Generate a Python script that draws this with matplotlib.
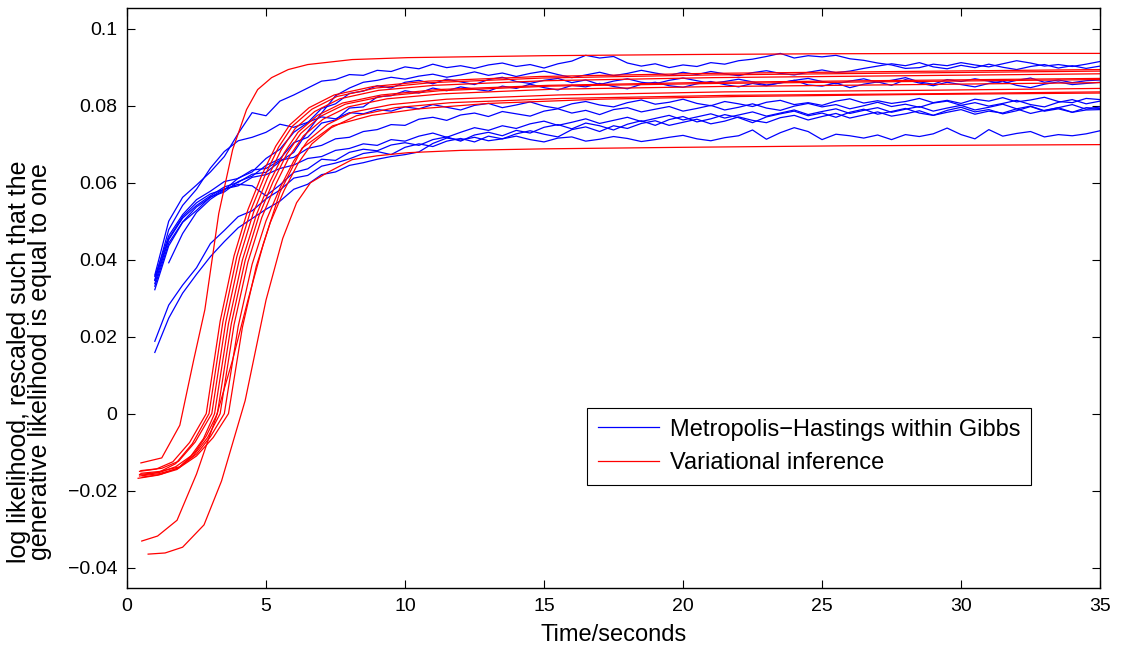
import numpy as np
import matplotlib
matplotlib.use('Agg')
import matplotlib.pyplot as plt

plt.rcParams['font.family'] = ['Liberation Sans', 'DejaVu Sans']

# Metropolis-Hastings within Gibbs runs, sampled every 0.5 s from 1 s to 35 s
mh_time = np.arange(1.0, 35.01, 0.5)

mh_run1 = [0.0360, 0.0500, 0.0562, 0.0594, 0.0628, 0.0668, 0.0728, 0.0782, 0.0774, 0.0812,
           0.0828, 0.0846, 0.0864, 0.0868, 0.0881, 0.0879, 0.0892, 0.0889, 0.0901, 0.0896,
           0.0908, 0.0899, 0.0904, 0.0897, 0.0906, 0.0911, 0.0902, 0.0907, 0.0898, 0.0909,
           0.0916, 0.0931, 0.0924, 0.0928, 0.0911, 0.0903, 0.0909, 0.0899, 0.0906, 0.0902,
           0.0912, 0.0908, 0.0917, 0.0921, 0.0928, 0.0936, 0.0924, 0.0930, 0.0927, 0.0931,
           0.0922, 0.0918, 0.0911, 0.0906, 0.0897, 0.0899, 0.0908, 0.0904, 0.0912, 0.0906,
           0.0901, 0.0909, 0.0917, 0.0911, 0.0903, 0.0907, 0.0902, 0.0908, 0.0915]
mh_run2 = [0.0338, 0.0452, 0.0508, 0.0541, 0.0566, 0.0589, 0.0601, 0.0622, 0.0627, 0.0655,
           0.0679, 0.0733, 0.0781, 0.0826, 0.0846, 0.0861, 0.0866, 0.0874, 0.0869, 0.0877,
           0.0882, 0.0874, 0.0880, 0.0888, 0.0879, 0.0885, 0.0876, 0.0884, 0.0890, 0.0881,
           0.0873, 0.0880, 0.0887, 0.0878, 0.0884, 0.0892, 0.0885, 0.0879, 0.0887, 0.0881,
           0.0889, 0.0883, 0.0878, 0.0886, 0.0891, 0.0884, 0.0880, 0.0887, 0.0893, 0.0886,
           0.0890, 0.0897, 0.0903, 0.0909, 0.0904, 0.0912, 0.0901, 0.0896, 0.0905, 0.0899,
           0.0908, 0.0900, 0.0894, 0.0902, 0.0907, 0.0898, 0.0904, 0.0897, 0.0903]
mh_run3 = [np.nan, 0.0392, 0.0468, 0.0523, 0.0557, 0.0581, 0.0612, 0.0628, 0.0663, 0.0687,
           0.0731, 0.0756, 0.0793, 0.0805, 0.0832, 0.0838, 0.0852, 0.0846, 0.0861, 0.0866,
           0.0857, 0.0869, 0.0862, 0.0855, 0.0868, 0.0874, 0.0863, 0.0858, 0.0866, 0.0871,
           0.0860, 0.0867, 0.0855, 0.0864, 0.0870, 0.0861, 0.0857, 0.0866, 0.0872, 0.0865,
           0.0858, 0.0863, 0.0869, 0.0862, 0.0854, 0.0859, 0.0866, 0.0871, 0.0863, 0.0857,
           0.0864, 0.0870, 0.0861, 0.0866, 0.0873, 0.0862, 0.0856, 0.0868, 0.0863, 0.0870,
           0.0864, 0.0858, 0.0866, 0.0872, 0.0861, 0.0867, 0.0860, 0.0865, 0.0867]
mh_run4 = [0.0322, 0.0436, 0.0497, 0.0528, 0.0563, 0.0576, 0.0603, 0.0617, 0.0645, 0.0662,
           0.0704, 0.0718, 0.0755, 0.0763, 0.0794, 0.0797, 0.0823, 0.0826, 0.0839, 0.0833,
           0.0846, 0.0839, 0.0849, 0.0843, 0.0838, 0.0851, 0.0845, 0.0856, 0.0847, 0.0841,
           0.0853, 0.0849, 0.0858, 0.0850, 0.0844, 0.0856, 0.0861, 0.0852, 0.0848, 0.0857,
           0.0863, 0.0855, 0.0849, 0.0858, 0.0852, 0.0860, 0.0866, 0.0854, 0.0851, 0.0859,
           0.0847, 0.0856, 0.0862, 0.0853, 0.0868, 0.0859, 0.0852, 0.0861, 0.0855, 0.0849,
           0.0858, 0.0864, 0.0853, 0.0847, 0.0856, 0.0862, 0.0855, 0.0858, 0.0861]
mh_run5 = [0.0346, 0.0478, 0.0541, 0.0583, 0.0638, 0.0681, 0.0709, 0.0718, 0.0731, 0.0752,
           0.0744, 0.0757, 0.0771, 0.0766, 0.0782, 0.0779, 0.0790, 0.0786, 0.0797, 0.0792,
           0.0803, 0.0796, 0.0789, 0.0801, 0.0806, 0.0795, 0.0802, 0.0810, 0.0799, 0.0793,
           0.0805, 0.0811, 0.0802, 0.0797, 0.0808, 0.0815, 0.0804, 0.0809, 0.0817, 0.0806,
           0.0800, 0.0811, 0.0805, 0.0798, 0.0809, 0.0814, 0.0803, 0.0808, 0.0801, 0.0812,
           0.0818, 0.0807, 0.0813, 0.0806, 0.0811, 0.0819, 0.0808, 0.0814, 0.0806, 0.0817,
           0.0812, 0.0821, 0.0810, 0.0815, 0.0822, 0.0811, 0.0808, 0.0819, 0.0816]
mh_run6 = [0.0356, 0.0462, 0.0517, 0.0556, 0.0578, 0.0603, 0.0611, 0.0633, 0.0637, 0.0658,
           0.0666, 0.0689, 0.0697, 0.0714, 0.0718, 0.0733, 0.0738, 0.0751, 0.0749, 0.0765,
           0.0770, 0.0762, 0.0776, 0.0781, 0.0772, 0.0785, 0.0779, 0.0773, 0.0786, 0.0792,
           0.0781, 0.0788, 0.0777, 0.0790, 0.0795, 0.0784, 0.0791, 0.0798, 0.0786, 0.0793,
           0.0801, 0.0789, 0.0796, 0.0805, 0.0794, 0.0788, 0.0799, 0.0806, 0.0797, 0.0803,
           0.0792, 0.0800, 0.0809, 0.0798, 0.0804, 0.0796, 0.0807, 0.0812, 0.0801, 0.0808,
           0.0799, 0.0806, 0.0814, 0.0803, 0.0797, 0.0809, 0.0816, 0.0805, 0.0812]
mh_run7 = [0.0331, 0.0443, 0.0498, 0.0537, 0.0562, 0.0584, 0.0592, 0.0614, 0.0621, 0.0637,
           0.0646, 0.0663, 0.0668, 0.0684, 0.0689, 0.0701, 0.0697, 0.0712, 0.0708, 0.0721,
           0.0729, 0.0718, 0.0731, 0.0743, 0.0736, 0.0748, 0.0741, 0.0753, 0.0760, 0.0749,
           0.0757, 0.0766, 0.0754, 0.0762, 0.0770, 0.0759, 0.0767, 0.0775, 0.0763, 0.0771,
           0.0779, 0.0768, 0.0776, 0.0784, 0.0773, 0.0781, 0.0789, 0.0777, 0.0785, 0.0792,
           0.0780, 0.0788, 0.0795, 0.0783, 0.0791, 0.0798, 0.0786, 0.0794, 0.0801, 0.0789,
           0.0796, 0.0804, 0.0792, 0.0799, 0.0787, 0.0795, 0.0803, 0.0791, 0.0797]
mh_run8 = [0.0347, 0.0455, 0.0512, 0.0548, 0.0571, 0.0583, 0.0596, 0.0592, 0.0566, 0.0594,
           0.0627, 0.0636, 0.0661, 0.0658, 0.0679, 0.0687, 0.0683, 0.0698, 0.0704, 0.0697,
           0.0712, 0.0719, 0.0708, 0.0724, 0.0731, 0.0722, 0.0736, 0.0729, 0.0744, 0.0751,
           0.0740, 0.0755, 0.0748, 0.0737, 0.0752, 0.0761, 0.0749, 0.0764, 0.0772, 0.0758,
           0.0766, 0.0777, 0.0769, 0.0756, 0.0771, 0.0779, 0.0786, 0.0774, 0.0781, 0.0770,
           0.0783, 0.0791, 0.0778, 0.0785, 0.0793, 0.0781, 0.0775, 0.0788, 0.0796, 0.0784,
           0.0790, 0.0779, 0.0787, 0.0798, 0.0786, 0.0792, 0.0783, 0.0795, 0.0793]
mh_run9 = [0.0188, 0.0282, 0.0334, 0.0379, 0.0442, 0.0476, 0.0512, 0.0527, 0.0558, 0.0581,
           0.0612, 0.0619, 0.0643, 0.0651, 0.0662, 0.0676, 0.0681, 0.0673, 0.0692, 0.0701,
           0.0694, 0.0708, 0.0715, 0.0706, 0.0721, 0.0714, 0.0727, 0.0735, 0.0726, 0.0719,
           0.0738, 0.0745, 0.0733, 0.0748, 0.0741, 0.0754, 0.0761, 0.0749, 0.0757, 0.0765,
           0.0753, 0.0760, 0.0771, 0.0762, 0.0756, 0.0769, 0.0775, 0.0763, 0.0772, 0.0780,
           0.0768, 0.0776, 0.0784, 0.0773, 0.0779, 0.0787, 0.0775, 0.0783, 0.0790, 0.0778,
           0.0786, 0.0781, 0.0792, 0.0780, 0.0788, 0.0795, 0.0783, 0.0789, 0.0790]
mh_run10 = [0.0159, 0.0248, 0.0313, 0.0362, 0.0408, 0.0447, 0.0483, 0.0507, 0.0531, 0.0552,
            0.0583, 0.0596, 0.0621, 0.0628, 0.0645, 0.0652, 0.0661, 0.0668, 0.0673, 0.0680,
            0.0702, 0.0716, 0.0711, 0.0718, 0.0709, 0.0714, 0.0721, 0.0712, 0.0706, 0.0716,
            0.0719, 0.0708, 0.0713, 0.0720, 0.0715, 0.0707, 0.0712, 0.0718, 0.0723, 0.0714,
            0.0709, 0.0717, 0.0722, 0.0737, 0.0713, 0.0730, 0.0743, 0.0733, 0.0712, 0.0726,
            0.0722, 0.0716, 0.0724, 0.0712, 0.0725, 0.0720, 0.0727, 0.0742, 0.0725, 0.0714,
            0.0738, 0.0721, 0.0728, 0.0733, 0.0719, 0.0725, 0.0722, 0.0727, 0.0735]

# Variational inference runs (time in s, scaled log likelihood)
vi_run1_t = [0.5, 1.25, 1.9, 2.4, 2.8, 3.3, 3.8, 4.3, 4.7, 5.2, 5.8, 6.5, 8.1, 10.1, 15, 20, 25, 30, 35]
vi_run1_y = [-0.0128, -0.0115, -0.0030, 0.0140, 0.0270, 0.0520, 0.0686, 0.0790, 0.0842, 0.0873,
             0.0894, 0.0907, 0.0920, 0.0925, 0.0930, 0.0933, 0.0935, 0.0936, 0.0936]
vi_run2_t = [0.45, 1.05, 1.65, 2.25, 2.85, 3.35, 3.85, 4.35, 4.85, 5.35, 5.85, 6.55, 7.45, 8.85,
             10.85, 14.85, 20.85, 27.85, 35]
vi_run2_y = [-0.0150, -0.0144, -0.0125, -0.0075, 0.0000, 0.0240, 0.0410, 0.0530, 0.0620, 0.0695,
             0.0750, 0.0795, 0.0828, 0.0850, 0.0864, 0.0876, 0.0884, 0.0889, 0.0894]
vi_run3_t = [0.55, 1.15, 1.75, 2.35, 2.95, 3.45, 3.95, 4.45, 4.95, 5.45, 5.95, 6.65, 7.55, 8.95,
             10.95, 14.95, 20.95, 27.95, 35]
vi_run3_y = [-0.0160, -0.0152, -0.0130, -0.0078, 0.0000, 0.0239, 0.0408, 0.0528, 0.0617, 0.0692,
             0.0747, 0.0791, 0.0824, 0.0846, 0.0860, 0.0872, 0.0880, 0.0885, 0.0890]
vi_run4_t = [0.5, 1.25, 1.85, 2.45, 3.05, 3.55, 4.05, 4.55, 5.05, 5.55, 6.05, 6.75, 7.65, 9.05,
             11.05, 15.05, 21.05, 28.05, 35]
vi_run4_y = [-0.0148, -0.0142, -0.0124, -0.0074, 0.0000, 0.0237, 0.0405, 0.0523, 0.0612, 0.0686,
             0.0741, 0.0785, 0.0818, 0.0840, 0.0853, 0.0865, 0.0873, 0.0878, 0.0883]
vi_run5_t = [0.45, 1.15, 1.75, 2.3, 2.75, 3.15, 3.65, 4.15, 4.65, 5.15, 5.65, 6.15, 6.85, 7.75,
             9.15, 11.15, 15.15, 21.15, 28.15, 35]
vi_run5_y = [-0.0158, -0.0153, -0.0138, -0.0110, -0.0065, 0.0000, 0.0234, 0.0399, 0.0516, 0.0604,
             0.0677, 0.0731, 0.0775, 0.0807, 0.0828, 0.0842, 0.0853, 0.0861, 0.0866, 0.0871]
vi_run6_t = [0.55, 1.2, 1.85, 2.45, 2.85, 3.25, 3.75, 4.25, 4.75, 5.25, 5.75, 6.25, 6.95, 7.85,
             9.25, 11.25, 15.25, 21.25, 28.25, 35]
vi_run6_y = [-0.0165, -0.0158, -0.0141, -0.0100, -0.0058, 0.0000, 0.0233, 0.0398, 0.0515, 0.0602,
             0.0675, 0.0728, 0.0772, 0.0804, 0.0825, 0.0839, 0.0851, 0.0858, 0.0863, 0.0868]
vi_run7_t = [0.4, 1.1, 1.8, 2.4, 2.9, 3.35, 3.85, 4.35, 4.85, 5.35, 5.85, 6.35, 7.05, 7.95,
             9.35, 11.35, 15.35, 21.35, 28.35, 35]
vi_run7_y = [-0.0168, -0.0160, -0.0145, -0.0108, -0.0062, 0.0000, 0.0231, 0.0394, 0.0510, 0.0596,
             0.0669, 0.0722, 0.0765, 0.0797, 0.0818, 0.0831, 0.0843, 0.0850, 0.0855, 0.0860]
vi_run8_t = [0.5, 1.2, 1.9, 2.5, 3.0, 3.5, 4.0, 4.5, 5.0, 5.5, 6.0, 6.5, 7.2, 8.1,
             9.5, 11.5, 15.5, 21.5, 28.5, 35]
vi_run8_y = [-0.0155, -0.0150, -0.0138, -0.0105, -0.0060, 0.0000, 0.0227, 0.0388, 0.0501, 0.0586,
             0.0657, 0.0709, 0.0751, 0.0783, 0.0803, 0.0817, 0.0828, 0.0836, 0.0840, 0.0845]
vi_run9_t = [0.45, 1.15, 1.85, 2.5, 3.1, 3.65, 4.15, 4.65, 5.15, 5.65, 6.15, 6.65, 7.35, 8.25,
             9.65, 11.65, 15.65, 21.65, 28.65, 35]
vi_run9_y = [-0.0162, -0.0156, -0.0142, -0.0110, -0.0062, 0.0000, 0.0224, 0.0383, 0.0496, 0.0580,
             0.0650, 0.0701, 0.0743, 0.0774, 0.0795, 0.0808, 0.0819, 0.0827, 0.0831, 0.0836]
vi_run10_t = [0.53, 1.1, 1.8, 2.5, 3.2, 3.8, 4.35, 4.9, 5.5, 6.3, 7.4, 8.8, 10.5, 13, 17, 22, 28, 35]
vi_run10_y = [-0.0331, -0.0318, -0.0277, -0.0157, -0.0010, 0.0140, 0.0295, 0.0440, 0.0575, 0.0690,
              0.0748, 0.0775, 0.0792, 0.0806, 0.0817, 0.0824, 0.0829, 0.0833]
vi_run11_t = [0.76, 1.37, 2.0, 2.77, 3.4, 4.25, 5.0, 5.6, 6.1, 6.6, 7.2, 8.1, 9.0, 10.1, 12, 15, 20, 26, 35]
vi_run11_y = [-0.0365, -0.0362, -0.0347, -0.0289, -0.0175, 0.0034, 0.0295, 0.0455, 0.0548, 0.0600,
              0.0626, 0.0660, 0.0670, 0.0678, 0.0684, 0.0688, 0.0692, 0.0696, 0.0699]

y_ticks = [-0.04, -0.02, 0, 0.02, 0.04, 0.06, 0.08, 0.1]
y_tick_labels = ['\u22120.04', '\u22120.02', '0', '0.02', '0.04', '0.06', '0.08', '0.1']
x_ticks = [0, 5, 10, 15, 20, 25, 30, 35]


fig = plt.figure(figsize=(11.21, 6.49), dpi=100)
ax = fig.add_axes([0.1133, 0.094, 0.868, 0.8937])

mh_runs = [mh_run1, mh_run2, mh_run3, mh_run4, mh_run5,
           mh_run6, mh_run7, mh_run8, mh_run9, mh_run10]
for i, run in enumerate(mh_runs):
    ax.plot(mh_time, run, color=(0, 0, 1), linewidth=0.9,
            label='Metropolis\u2212Hastings within Gibbs' if i == 0 else None)

vi_runs = [(vi_run1_t, vi_run1_y), (vi_run2_t, vi_run2_y), (vi_run3_t, vi_run3_y),
           (vi_run4_t, vi_run4_y), (vi_run5_t, vi_run5_y), (vi_run6_t, vi_run6_y),
           (vi_run7_t, vi_run7_y), (vi_run8_t, vi_run8_y), (vi_run9_t, vi_run9_y),
           (vi_run10_t, vi_run10_y), (vi_run11_t, vi_run11_y)]
for i, (t, y) in enumerate(vi_runs):
    ax.plot(t, y, color=(1, 0, 0), linewidth=0.9,
            label='Variational inference' if i == 0 else None)

ax.set_xlim(0, 35)
ax.set_ylim(-0.0453, 0.1054)
ax.set_xticks(x_ticks)
ax.set_xticklabels([str(v) for v in x_ticks])
ax.set_yticks(y_ticks)
ax.set_yticklabels(y_tick_labels)
ax.tick_params(direction='in', top=True, right=True, length=6, width=0.8,
               labelsize=14, pad=7)
for sp in ax.spines.values():
    sp.set_linewidth(1.0)

ax.set_xlabel('Time/seconds', fontsize=17, labelpad=7)
ax.set_ylabel('log likelihood, rescaled such that the\ngenerative likelihood is equal to one',
              fontsize=18, linespacing=0.85)
# the label sits a little below the middle of the axis, as in the original figure
ax.yaxis.set_label_coords(-0.077, 0.39)

leg = ax.legend(loc='upper left', bbox_to_anchor=(0.4728, 0.3103), fontsize=17,
                frameon=True, fancybox=False, edgecolor='black', framealpha=1,
                borderaxespad=0, handlelength=2.6, labelspacing=0.5,
                borderpad=0.45, handletextpad=0.45)
leg.get_frame().set_linewidth(0.8)

fig.savefig('out.png', dpi=100)
